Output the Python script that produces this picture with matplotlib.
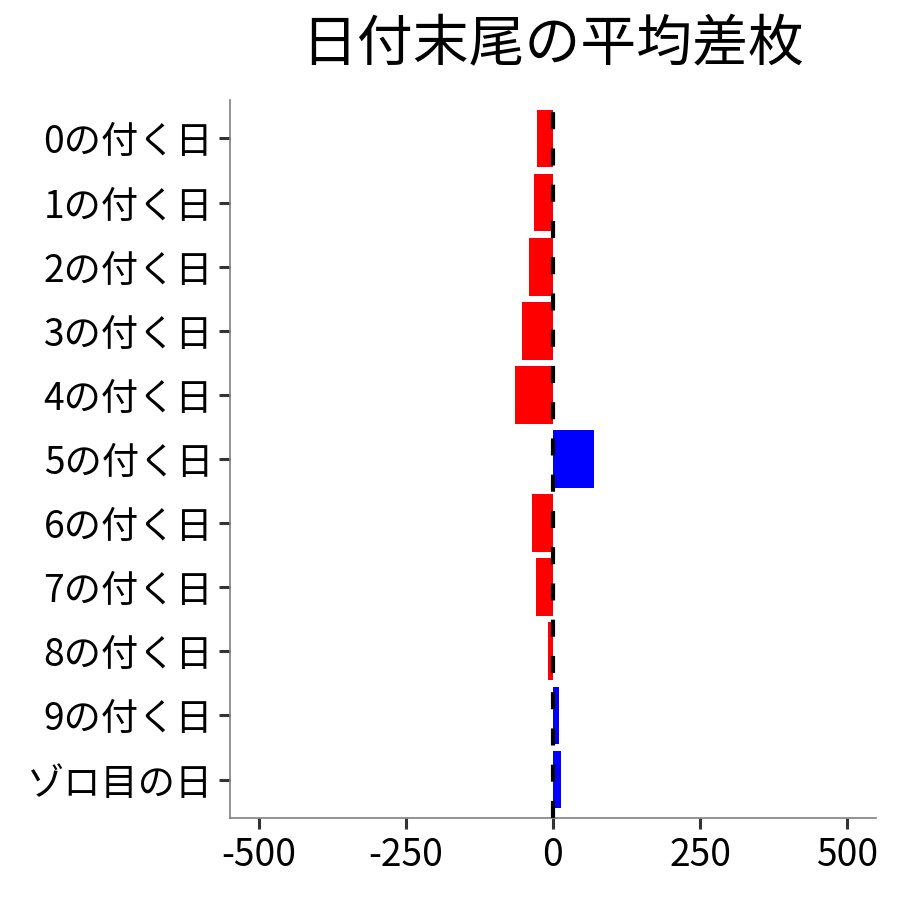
import matplotlib
matplotlib.use("Agg")
import matplotlib.pyplot as plt

plt.rcParams['font.family'] = ['Noto Sans CJK JP', 'DejaVu Sans']

categories = ["0の付く日", "1の付く日", "2の付く日", "3の付く日", "4の付く日",
              "5の付く日", "6の付く日", "7の付く日", "8の付く日", "9の付く日", "ゾロ目の日"]
values = [-28, -33, -41, -53, -65, 69, -35, -29, -9, 10, 13]
xticks = [-500, -250, 0, 250, 500]
xticklabels = ["-500", "-250", "0", "250", "500"]
title = "日付末尾の平均差枚"

fig = plt.figure(figsize=(9, 9), dpi=100)
ax = fig.add_axes([230/900, 82/900, 646/900, 718/900])

n = len(categories)
ypos = list(range(n))[::-1]
colors = ['blue' if v > 0 else 'red' for v in values]
ax.barh(ypos, values, height=0.9, color=colors, zorder=2)
ax.axvline(0, color='black', linestyle=(0, (4.1, 4.6)), linewidth=3, zorder=3)

ax.set_xlim(-549, 549)
ax.set_ylim(-0.6, n - 1 + 0.6)
ax.set_yticks(ypos)
ax.set_yticklabels(categories, fontsize=26.8, color='black')
ax.set_xticks(xticks)
ax.set_xticklabels(xticklabels, fontsize=26.8, color='black')
ax.tick_params(axis='both', length=8, width=2.2, color='#333333')
ax.tick_params(axis='x', pad=5)
ax.tick_params(axis='y', pad=4)

for s in ['top', 'right']:
    ax.spines[s].set_visible(False)
for s in ['left', 'bottom']:
    ax.spines[s].set_color('#808080')
    ax.spines[s].set_linewidth(1.2)

fig.text(553/900, 1 - 45/900, title, fontsize=40.2, ha='center', va='center', color='black')

fig.savefig("out.png", dpi=100, facecolor='white')
